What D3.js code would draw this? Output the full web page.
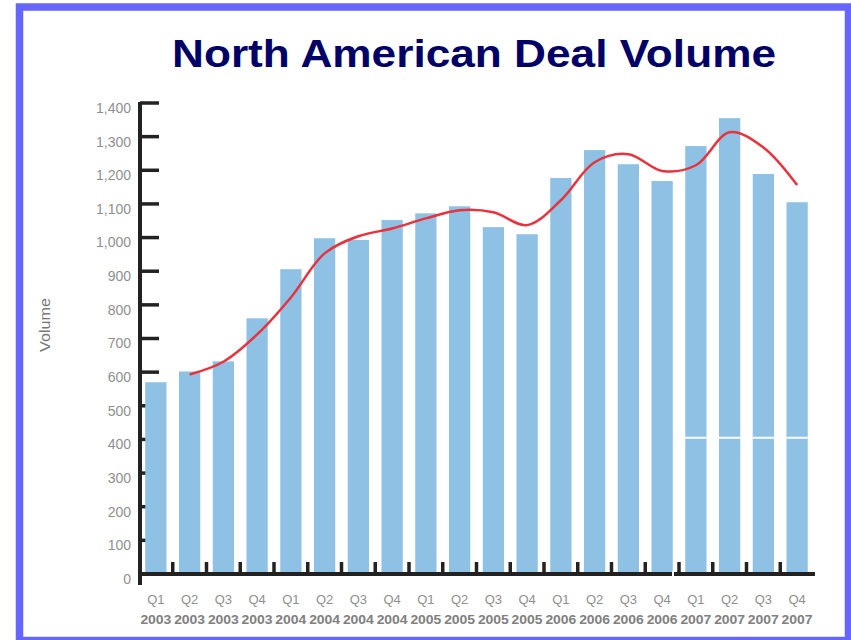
<!DOCTYPE html>
<meta charset="utf-8">
<script src="https://d3js.org/d3.v7.min.js"></script>
<style>
  body { margin: 0; background: #fff; }
  text { font-family: "Liberation Sans", Arial, sans-serif; }
</style>
<div id="chart"></div>
<script>
    // quarters and deal counts
    const quarters = ["Q1", "Q2", "Q3", "Q4"];
    const years = ["2003", "2004", "2005", "2006", "2007"];
    const categories = years.flatMap(y => quarters.map(q => q + " " + y));
    const volumes = [570, 602, 632, 760, 906, 998, 993, 1052, 1072, 1093,
                     1031, 1010, 1177, 1260, 1218, 1168, 1272, 1355, 1189, 1105];
    // red trend line (no value for the first quarter)
    const trend = [null, 593, 631, 712, 822, 953, 1004, 1027, 1057, 1081,
                   1075, 1037, 1111, 1224, 1248, 1198, 1215, 1313, 1268, 1156];
    const yTicks = d3.range(0, 1401, 100);
    const breakValue = 405; // thin white line across the 2007 bars

    const W = 851, H = 640;

    const svg = d3.select("#chart")
        .append("svg")
        .attr("width", W)
        .attr("height", H);

    // blue frame
    svg.append("rect")
        .attr("x", 19.5).attr("y", 7)
        .attr("width", 829).attr("height", 633.5)
        .attr("fill", "#fff")
        .attr("stroke", "#6666ff")
        .attr("stroke-width", 7.5);

    svg.append("text")
        .attr("x", 172).attr("y", 67)
        .attr("textLength", 604)
        .attr("lengthAdjust", "spacingAndGlyphs")
        .style("font-size", "39px")
        .style("font-weight", "bold")
        .style("fill", "#000066")
        .text("North American Deal Volume");

    const x = d3.scaleBand()
        .domain(categories)
        .range([139, 814])
        .paddingInner(0.37)
        .paddingOuter(0.185);

    const y = d3.scaleLinear()
        .domain([0, 1400])
        .range([574, 103]);

    const x0 = 140;

    // y ticks (drawn under the bars)
    svg.append("g")
        .selectAll("line")
        .data(yTicks.filter(d => d > 0))
        .join("line")
        .attr("x1", x0).attr("x2", x0 + 19)
        .attr("y1", d => y(d)).attr("y2", d => y(d))
        .attr("stroke", "#222")
        .attr("stroke-width", 3.5);

    svg.append("g")
        .selectAll("text")
        .data(yTicks)
        .join("text")
        .attr("x", 131)
        .attr("y", d => y(d) + 5)
        .attr("dy", "0.35em")
        .attr("text-anchor", "end")
        .style("font-size", "14px")
        .style("fill", "#8f8f8f")
        .text(d => d3.format(",")(d));

    // bars
    svg.append("g")
        .selectAll("rect")
        .data(volumes)
        .join("rect")
        .attr("x", (d, i) => x(categories[i]))
        .attr("width", x.bandwidth())
        .attr("y", d => y(d))
        .attr("height", d => y(0) - y(d))
        .attr("fill", "#8ec1e4");

    svg.append("g")
        .selectAll("line")
        .data(categories.slice(16))
        .join("line")
        .attr("x1", d => x(d)).attr("x2", d => x(d) + x.bandwidth())
        .attr("y1", y(breakValue)).attr("y2", y(breakValue))
        .attr("stroke", "#fff")
        .attr("stroke-width", 2);

    // trend line
    const line = d3.line()
        .defined(d => d != null)
        .x((d, i) => x(categories[i]) + x.bandwidth() / 2)
        .y(d => y(d))
        .curve(d3.curveCatmullRom.alpha(0.5));

    svg.append("path")
        .datum(trend)
        .attr("d", line)
        .attr("fill", "none")
        .attr("stroke", "#e8323c")
        .attr("stroke-width", 2.5)
        .attr("stroke-linejoin", "round");

    // axes
    svg.append("line")
        .attr("x1", x0).attr("x2", x0)
        .attr("y1", 102).attr("y2", 585)
        .attr("stroke", "#222").attr("stroke-width", 4);

    svg.append("line")
        .attr("x1", x0).attr("x2", 815)
        .attr("y1", y(0)).attr("y2", y(0))
        .attr("stroke", "#222").attr("stroke-width", 4);

    // small gap in the x axis
    svg.append("rect")
        .attr("x", 672).attr("y", y(0) - 3)
        .attr("width", 2).attr("height", 6)
        .attr("fill", "#fff");

    // x ticks between bars, pointing up
    svg.append("g")
        .selectAll("line")
        .data(categories.slice(1))
        .join("line")
        .attr("x1", d => x(d) - x.step() * x.paddingInner() / 2)
        .attr("x2", d => x(d) - x.step() * x.paddingInner() / 2)
        .attr("y1", y(0)).attr("y2", y(0) - 12)
        .attr("stroke", "#222")
        .attr("stroke-width", 3.5);

    // x labels: quarter over year
    const xl = svg.append("g")
        .selectAll("g")
        .data(categories)
        .join("g")
        .attr("transform", d => `translate(${x(d) + x.bandwidth() / 2},0)`);

    xl.append("text")
        .attr("y", 604)
        .attr("text-anchor", "middle")
        .style("font-size", "13px")
        .style("fill", "#8f8f8f")
        .text(d => d.split(" ")[0]);

    xl.append("text")
        .attr("y", 624)
        .attr("text-anchor", "middle")
        .attr("textLength", 31)
        .attr("lengthAdjust", "spacingAndGlyphs")
        .style("font-size", "12px")
        .style("font-weight", "bold")
        .style("fill", "#808080")
        .text(d => d.split(" ")[1]);

    // y axis title
    svg.append("text")
        .attr("transform", "translate(50,325) rotate(-90)")
        .attr("text-anchor", "middle")
        .attr("textLength", 54)
        .attr("lengthAdjust", "spacingAndGlyphs")
        .style("font-size", "15px")
        .style("fill", "#777")
        .text("Volume");
</script>
